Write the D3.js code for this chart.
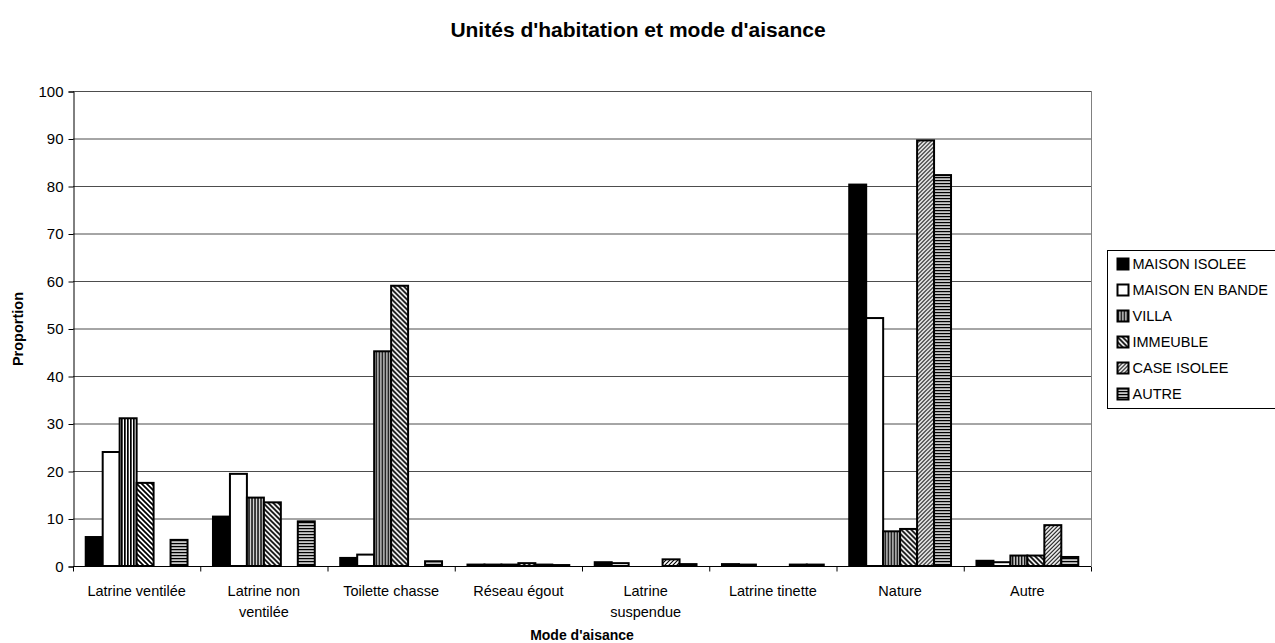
<!DOCTYPE html>
<html>
<head>
<meta charset="utf-8">
<script src="https://cdn.jsdelivr.net/npm/d3@7"></script>
<style>
  body { margin: 0; background: #fff; }
  text { font-family: "Liberation Sans", Arial, sans-serif; fill: #000; }
  .grid line { stroke: #4d4d4d; stroke-width: 1; }
  .bar { stroke: #000; stroke-width: 2; }
</style>
</head>
<body>
<script>

var categories = ["Latrine ventilée", "Latrine non ventilée", "Toilette chasse", "Réseau égout",
                  "Latrine suspendue", "Latrine tinette", "Nature", "Autre"];
var categoryLines = [["Latrine ventilée"], ["Latrine non", "ventilée"], ["Toilette chasse"], ["Réseau égout"],
                     ["Latrine", "suspendue"], ["Latrine tinette"], ["Nature"], ["Autre"]];

var seriesNames = ["MAISON ISOLEE", "MAISON EN BANDE", "VILLA", "IMMEUBLE", "CASE ISOLEE", "AUTRE"];

var maisonIsolee  = [6.1, 10.4, 1.7, 0.3, 0.8, 0.4, 80.3, 1.1];
var maisonEnBande = [24.0, 19.4, 2.4, 0.3, 0.6, 0.3, 52.2, 0.8];
var villa         = [31.1, 14.4, 45.2, 0.3, 0, 0, 7.3, 2.2];
var immeuble      = [17.5, 13.4, 59.0, 0.6, 0, 0, 7.8, 2.2];
var caseIsolee    = [0, 0, 0, 0.3, 1.4, 0.3, 89.6, 8.6];
var autre         = [5.5, 9.4, 1.0, 0.2, 0.4, 0.3, 82.3, 1.9];

var yTicks = [0, 10, 20, 30, 40, 50, 60, 70, 80, 90, 100];

var allSeries = [maisonIsolee, maisonEnBande, villa, immeuble, caseIsolee, autre];

var width = 1275, height = 643;
var margin = {left: 73, right: 1091, top: 91, bottom: 566};

var svg = d3.select("body").append("svg")
    .attr("width", width)
    .attr("height", height);

// fill patterns, one per series
var defs = svg.append("defs");

function pattern(id, size, draw) {
  var p = defs.append("pattern")
      .attr("id", id)
      .attr("patternUnits", "userSpaceOnUse")
      .attr("width", size).attr("height", size);
  p.append("rect").attr("width", size).attr("height", size).attr("fill", "#fff");
  draw(p);
}
pattern("p-villa", 3, function(p) {
  p.append("rect").attr("x", 0).attr("width", 1.7).attr("height", 3).attr("fill", "#000");
});
pattern("p-imm", 5, function(p) {
  p.append("path").attr("d", "M-1,-1 L6,6 M-1,4 L1,6 M4,-1 L6,1")
    .attr("stroke", "#000").attr("stroke-width", 1.7);
});
pattern("p-case", 4, function(p) {
  p.append("path").attr("d", "M-1,5 L5,-1 M-1,1 L1,-1 M3,5 L5,3")
    .attr("stroke", "#000").attr("stroke-width", 1.1);
});
pattern("p-autre", 3, function(p) {
  p.select("rect").attr("fill", "#c8c8c8");
  p.append("rect").attr("y", 0).attr("width", 3).attr("height", 1.2).attr("fill", "#000");
});

var fills = ["#000", "#fff", "url(#p-villa)", "url(#p-imm)", "url(#p-case)", "url(#p-autre)"];

var x0 = d3.scaleBand()
    .domain(categories)
    .range([margin.left, margin.right])
    .padding(0);

var x1 = d3.scaleBand()
    .domain(d3.range(seriesNames.length))
    .range([0, x0.bandwidth()])
    .paddingInner(0)
    .paddingOuter(0.75);

var y = d3.scaleLinear()
    .domain([0, 100])
    .range([margin.bottom, margin.top]);

// title
svg.append("text")
    .attr("x", 638).attr("y", 37)
    .attr("text-anchor", "middle")
    .style("font-size", "21px").style("font-weight", "bold")
    .text("Unités d'habitation et mode d'aisance");

// gridlines
svg.append("g").attr("class", "grid")
  .selectAll("line")
  .data(yTicks.filter(function(d) { return d > 0; }))
  .enter().append("line")
    .attr("x1", margin.left).attr("x2", margin.right)
    .attr("y1", function(d) { return y(d) + 0.5; })
    .attr("y2", function(d) { return y(d) + 0.5; });

// right border of plot area
svg.append("line")
    .attr("x1", margin.right + 0.5).attr("x2", margin.right + 0.5)
    .attr("y1", margin.top).attr("y2", margin.bottom)
    .attr("stroke", "#808080");

// bars
var groups = svg.selectAll("g.cat")
    .data(categories)
    .enter().append("g")
    .attr("class", "cat")
    .attr("transform", function(d) { return "translate(" + x0(d) + ",0)"; });

groups.selectAll("rect")
    .data(function(d, i) {
      return allSeries.map(function(s, k) { return {k: k, v: s[i]}; })
        .filter(function(o) { return o.v > 0; });
    })
    .enter().append("rect")
    .attr("class", "bar")
    .attr("x", function(d) { return x1(d.k); })
    .attr("width", x1.bandwidth())
    .attr("y", function(d) { return y(d.v); })
    .attr("height", function(d) { return y(0) - y(d.v); })
    .attr("fill", function(d) { return fills[d.k]; });

// y axis
var yAxis = svg.append("g")
    .attr("transform", "translate(" + (margin.left + 0.5) + ",0.5)")
    .call(d3.axisLeft(y).tickValues(yTicks).tickSize(5).tickPadding(5));
yAxis.selectAll("text").style("font-size", "15px").attr("font-family", null);
yAxis.select(".domain").attr("stroke", "#000");

// x axis: ticks at category boundaries
var xAxis = svg.append("g")
    .attr("transform", "translate(0," + (margin.bottom + 0.5) + ")");
xAxis.append("line")
    .attr("x1", margin.left).attr("x2", margin.right)
    .attr("stroke", "#000");
xAxis.selectAll("line.tk")
    .data(categories.concat(["end"]))
    .enter().append("line")
    .attr("class", "tk")
    .attr("x1", function(d, i) { return margin.left + i * x0.step() + 0.5; })
    .attr("x2", function(d, i) { return margin.left + i * x0.step() + 0.5; })
    .attr("y1", 0).attr("y2", 5)
    .attr("stroke", "#000");

var labels = xAxis.selectAll("text.cl")
    .data(categories)
    .enter().append("text")
    .attr("class", "cl")
    .attr("text-anchor", "middle")
    .attr("x", function(d) { return x0(d) + x0.bandwidth() / 2; })
    .attr("y", 29)
    .style("font-size", "14.5px");
labels.selectAll("tspan")
    .data(function(d, i) { return categoryLines[i]; })
    .enter().append("tspan")
    .attr("x", function() { return d3.select(this.parentNode).attr("x"); })
    .attr("dy", function(d, i) { return i === 0 ? 0 : 21; })
    .text(function(d) { return d; });

// axis titles
svg.append("text")
    .attr("x", 582).attr("y", 640)
    .attr("text-anchor", "middle")
    .style("font-size", "14px").style("font-weight", "bold")
    .text("Mode d'aisance");

svg.append("text")
    .attr("transform", "translate(23,329) rotate(-90)")
    .attr("text-anchor", "middle")
    .style("font-size", "14.5px").style("font-weight", "bold")
    .text("Proportion");

// legend
var legend = svg.append("g").attr("transform", "translate(1107.5,250.5)");
legend.append("rect")
    .attr("width", 180).attr("height", 158)
    .attr("fill", "#fff").attr("stroke", "#000");

var items = legend.selectAll("g.item")
    .data(seriesNames)
    .enter().append("g")
    .attr("class", "item")
    .attr("transform", function(d, i) { return "translate(10," + (13.5 + i * 26) + ")"; });
items.append("rect")
    .attr("width", 11).attr("height", 11).attr("y", -5.5)
    .attr("fill", function(d, i) { return fills[i]; })
    .attr("stroke", "#000").attr("stroke-width", 2);
items.append("text")
    .attr("x", 15).attr("y", 5)
    .style("font-size", "14.5px")
    .text(function(d) { return d; });

</script>
</body>
</html>
